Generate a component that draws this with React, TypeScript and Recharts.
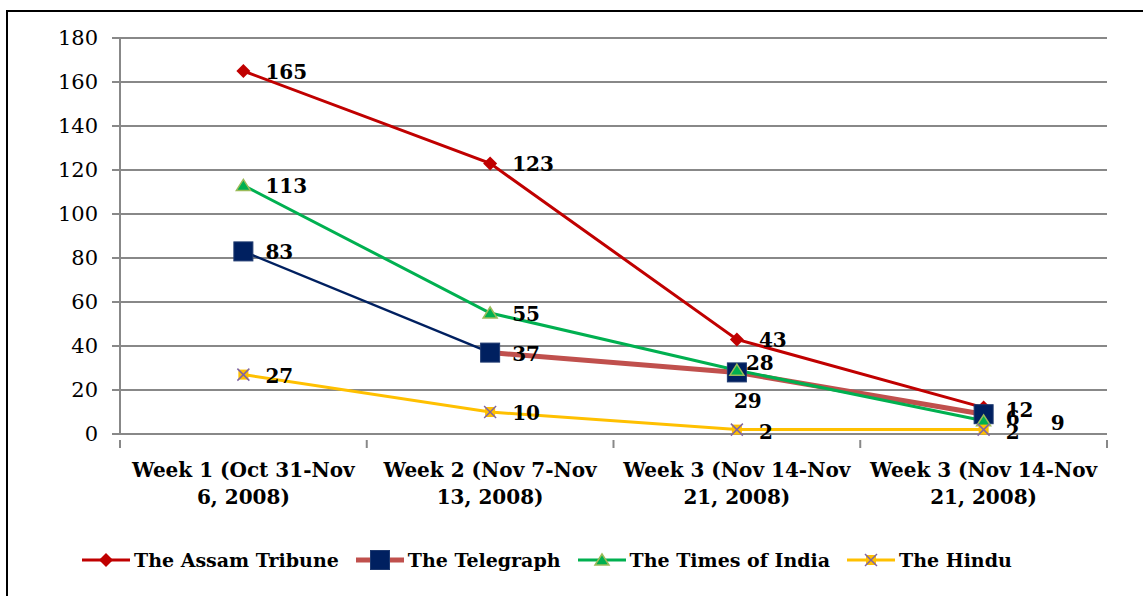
import { LineChart, Line, XAxis, YAxis, CartesianGrid } from 'recharts'

const categories = [
  'Week 1 (Oct 31-Nov 6, 2008)',
  'Week 2 (Nov 7-Nov 13, 2008)',
  'Week 3 (Nov 14-Nov 21, 2008)',
  'Week 3 (Nov 14-Nov 21, 2008)',
]
const assamTribune = [165, 123, 43, 12]
const telegraph = [83, 37, 28, 9]
const timesOfIndia = [113, 55, 29, 6]
const hindu = [27, 10, 2, 2]
const yTicks = [0, 20, 40, 60, 80, 100, 120, 140, 160, 180]

const FONT = "'DejaVu Serif', serif"
const GRID = '#888888'

// categories sit in the middle of each band, tick marks on band edges
const data = categories.map((name, i) => ({
  pos: i + 0.5,
  name,
  assam: assamTribune[i],
  telegraph: telegraph[i],
  telegraphHead: i <= 1 ? telegraph[i] : null,
  telegraphTail: i >= 1 ? telegraph[i] : null,
  times: timesOfIndia[i],
  hindu: hindu[i],
}))
const xTicks = [0, ...categories.flatMap((_, i) => [i + 0.5, i + 1])]

// label nudges (dx from point to text start, dy to text centre)
const labelNudge: Record<string, Record<number, [number, number]>> = {
  assam: { 3: [22, 2] },
  telegraph: { 2: [9, -9], 3: [67, 9] },
  times: { 2: [-3, 31], 3: [22, -3] },
  hindu: { 2: [22, 2], 3: [22, 2] },
}

const makeLabel = (key: string) => (props: any) => {
  const { x, y, value, index } = props
  if (value == null || x == null) return null
  const [dx, dy] = labelNudge[key]?.[index] ?? [22, 1]
  return (
    <text
      key={`${key}-l-${index}`}
      x={x + dx}
      y={y + dy}
      dominantBaseline="central"
      fontFamily={FONT}
      fontWeight="bold"
      fontSize={20}
      fill="#000"
    >
      {value}
    </text>
  )
}

function Diamond({ cx, cy }: { cx: number; cy: number }) {
  return <polygon points={`${cx},${cy - 7} ${cx + 7},${cy} ${cx},${cy + 7} ${cx - 7},${cy}`} fill="#C00000" />
}
function Square({ cx, cy }: { cx: number; cy: number }) {
  return <rect x={cx - 9.5} y={cy - 9.5} width={19} height={19} fill="#002060" stroke="#1F3A70" strokeWidth={1} />
}
function Triangle({ cx, cy }: { cx: number; cy: number }) {
  return (
    <polygon
      points={`${cx},${cy - 6} ${cx + 7},${cy + 5} ${cx - 7},${cy + 5}`}
      fill="#00B050"
      stroke="#9BBB59"
      strokeWidth={1.5}
    />
  )
}
function Cross({ cx, cy }: { cx: number; cy: number }) {
  return (
    <g>
      <rect x={cx - 5} y={cy - 5} width={10} height={10} fill="#FFC000" />
      <line x1={cx - 6} y1={cy - 6} x2={cx + 6} y2={cy + 6} stroke="#7F64A2" strokeWidth={1.5} />
      <line x1={cx - 6} y1={cy + 6} x2={cx + 6} y2={cy - 6} stroke="#7F64A2" strokeWidth={1.5} />
    </g>
  )
}

const makeDot = (Shape: any, key: string) => (props: any) => {
  const { cx, cy, index, value } = props
  if (value == null || cx == null || cy == null) return <g key={`${key}-d-${index}`} />
  return (
    <g key={`${key}-d-${index}`}>
      <Shape cx={cx} cy={cy} />
    </g>
  )
}

function WeekTick(props: any) {
  const { x, y, payload } = props
  const v = Number(payload.value)
  if (Number.isInteger(v)) {
    return <line x1={x} y1={y} x2={x} y2={y + 8} stroke={GRID} strokeWidth={2} />
  }
  const words = categories[Math.floor(v)].split(' ')
  const l1 = words.slice(0, -2).join(' ')
  const l2 = words.slice(-2).join(' ')
  return (
    <text x={x} y={y} textAnchor="middle" fontFamily={FONT} fontWeight="bold" fontSize={20} fill="#000">
      <tspan x={x} y={y + 37}>{l1}</tspan>
      <tspan x={x} y={y + 64}>{l2}</tspan>
    </text>
  )
}

const legendItems = [
  { name: 'The Assam Tribune', color: '#C00000', width: 3, Shape: Diamond },
  { name: 'The Telegraph', color: '#C0504D', width: 5, Shape: Square },
  { name: 'The Times of India', color: '#00B050', width: 3, Shape: Triangle },
  { name: 'The Hindu', color: '#FFC000', width: 3, Shape: Cross },
]

export default function App() {
  return (
    <div style={{ position: 'fixed', left: 0, top: 0, width: 1143, height: 596, overflow: 'hidden', background: '#fff' }}>
      <div
        style={{
          position: 'absolute',
          left: 6,
          top: 10,
          width: 1200,
          height: 700,
          border: '2px solid #000',
        }}
      />
      <div style={{ position: 'absolute', left: 0, top: 0 }}>
        <LineChart width={1143} height={596} data={data} margin={{ top: 38, right: 36, left: 0, bottom: 0 }}>
          <CartesianGrid vertical={false} stroke={GRID} strokeWidth={2} />
          <XAxis
            dataKey="pos"
            type="number"
            domain={[0, 4]}
            ticks={xTicks}
            interval={0}
            height={162}
            tickLine={false}
            tickMargin={0}
            stroke={GRID}
            strokeWidth={2}
            tick={<WeekTick />}
          />
          <YAxis
            width={120}
            domain={[0, 180]}
            ticks={yTicks}
            interval={0}
            tickSize={8}
            tickMargin={14}
            stroke={GRID}
            strokeWidth={2}
            tick={{ fontFamily: FONT, fontSize: 21, fill: '#000' }}
          />
          <Line
            dataKey="assam"
            stroke="#C00000"
            strokeWidth={3}
            dot={makeDot(Diamond, 'assam')}
            label={makeLabel('assam')}
            isAnimationActive={false}
          />
          <Line
            dataKey="telegraphHead"
            stroke="#002060"
            strokeWidth={2.5}
            dot={false}
            isAnimationActive={false}
          />
          <Line
            dataKey="telegraphTail"
            stroke="#C0504D"
            strokeWidth={5}
            dot={false}
            isAnimationActive={false}
          />
          <Line
            dataKey="telegraph"
            stroke="none"
            dot={makeDot(Square, 'telegraph')}
            label={makeLabel('telegraph')}
            isAnimationActive={false}
          />
          <Line
            dataKey="times"
            stroke="#00B050"
            strokeWidth={3}
            dot={makeDot(Triangle, 'times')}
            label={makeLabel('times')}
            isAnimationActive={false}
          />
          <Line
            dataKey="hindu"
            stroke="#FFC000"
            strokeWidth={3}
            dot={makeDot(Cross, 'hindu')}
            label={makeLabel('hindu')}
            isAnimationActive={false}
          />
        </LineChart>
      </div>
      <div
        style={{
          position: 'absolute',
          left: 82,
          top: 545,
          display: 'flex',
          alignItems: 'center',
          fontFamily: FONT,
          fontWeight: 'bold',
          fontSize: 19,
          color: '#000',
        }}
      >
        {legendItems.map((it) => (
          <div key={it.name} style={{ display: 'flex', alignItems: 'center', marginRight: 17 }}>
            <svg width={48} height={30} style={{ marginRight: 4 }}>
              <line x1={0} y1={15} x2={48} y2={15} stroke={it.color} strokeWidth={it.width} />
              <it.Shape cx={24} cy={15} />
            </svg>
            <span>{it.name}</span>
          </div>
        ))}
      </div>
    </div>
  )
}
